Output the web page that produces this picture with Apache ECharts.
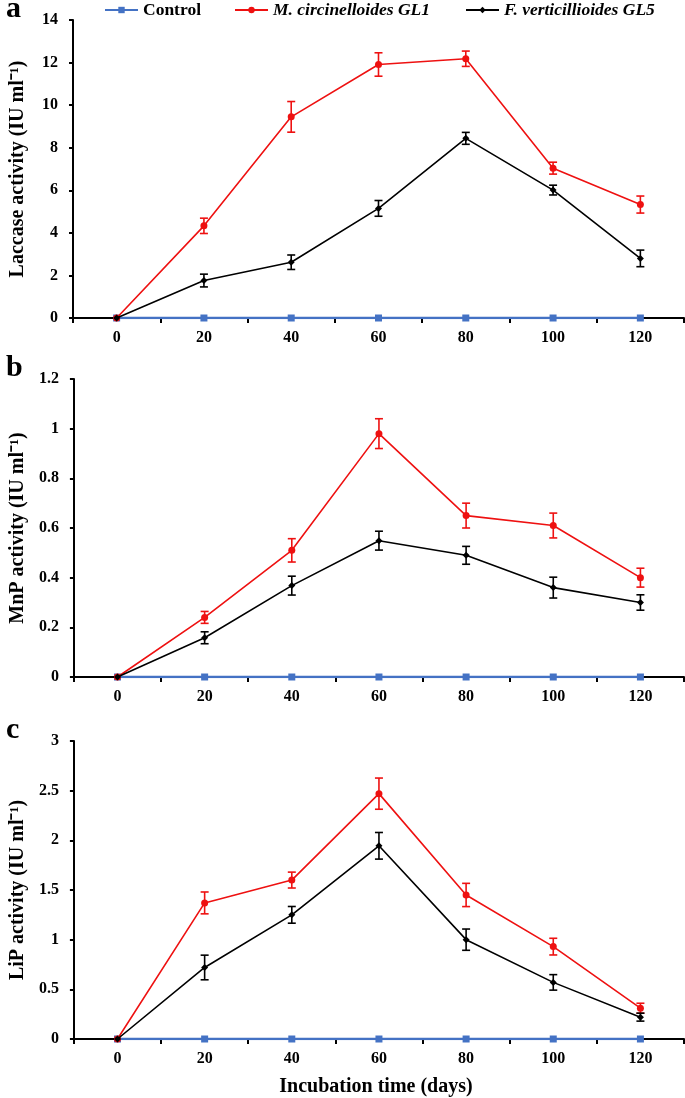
<!DOCTYPE html>
<html>
<head>
<meta charset="utf-8">
<script src="https://cdn.jsdelivr.net/npm/echarts@6/dist/echarts.min.js"></script>
<style>
html,body{margin:0;padding:0;background:#fff;}
#chart{width:685px;height:1098px;}
</style>
</head>
<body>
<div id="chart"></div>
<script>
// ---- data ----
const days = ['0', '20', '40', '60', '80', '100', '120'];
const seriesNames = ['Control', 'M. circinelloides GL1', 'F. verticillioides GL5'];
const panelLetters = ['a', 'b', 'c'];
const yTitles = ['Laccase activity (IU ml\u207B\u00B9)', 'MnP activity (IU ml\u207B\u00B9)', 'LiP activity (IU ml\u207B\u00B9)'];
const xTitle = 'Incubation time (days)';
const yMax = [14, 1.2, 3];
const yInterval = [2, 0.2, 0.5];

const lacControl = [0, 0, 0, 0, 0, 0, 0];
const lacGL1 = [0, 4.33, 9.45, 11.91, 12.18, 7.04, 5.33];
const lacGL1Err = [0, 0.36, 0.72, 0.55, 0.36, 0.28, 0.40];
const lacGL5 = [0, 1.76, 2.62, 5.15, 8.44, 6.01, 2.80];
const lacGL5Err = [0, 0.30, 0.34, 0.37, 0.28, 0.23, 0.39];

const mnpControl = [0, 0, 0, 0, 0, 0, 0];
const mnpGL1 = [0, 0.24, 0.51, 0.98, 0.65, 0.61, 0.40];
const mnpGL1Err = [0, 0.024, 0.047, 0.06, 0.05, 0.05, 0.038];
const mnpGL5 = [0, 0.158, 0.368, 0.549, 0.49, 0.36, 0.30];
const mnpGL5Err = [0, 0.024, 0.038, 0.038, 0.036, 0.042, 0.031];

const lipControl = [0, 0, 0, 0, 0, 0, 0];
const lipGL1 = [0, 1.37, 1.60, 2.47, 1.45, 0.93, 0.31];
const lipGL1Err = [0, 0.11, 0.08, 0.157, 0.117, 0.084, 0.05];
const lipGL5 = [0, 0.72, 1.25, 1.945, 1.0, 0.57, 0.22];
const lipGL5Err = [0, 0.124, 0.084, 0.134, 0.107, 0.078, 0.04];

const panels = [
  {control: lacControl, gl1: lacGL1, gl1Err: lacGL1Err, gl5: lacGL5, gl5Err: lacGL5Err},
  {control: mnpControl, gl1: mnpGL1, gl1Err: mnpGL1Err, gl5: mnpGL5, gl5Err: mnpGL5Err},
  {control: lipControl, gl1: lipGL1, gl1Err: lipGL1Err, gl5: lipGL5, gl5Err: lipGL5Err}
];

// ---- style ----
const FONT = "'Liberation Serif','Times New Roman',serif";
const BLUE = '#4472C4';
const RED = '#EE1111';
const BLACK = '#000000';
const gridTops = [20, 379, 741];
const gridHeight = 298;

const chart = echarts.init(document.getElementById('chart'), null, {renderer: 'canvas'});

function errSeries(vals, errs, color, idx) {
  return {
    type: 'custom',
    xAxisIndex: idx, yAxisIndex: idx,
    z: 2,
    silent: true,
    data: vals.map((v, i) => [i, v - errs[i], v + errs[i], errs[i]]),
    renderItem: function (params, api) {
      if (api.value(3) <= 0) return null;
      const x = api.value(0);
      const lo = api.coord([x, api.value(1)]);
      const hi = api.coord([x, api.value(2)]);
      const w = 4;
      const st = {stroke: color, lineWidth: 1.6};
      return {
        type: 'group',
        children: [
          {type: 'line', shape: {x1: lo[0], y1: lo[1], x2: hi[0], y2: hi[1]}, style: st},
          {type: 'line', shape: {x1: lo[0] - w, y1: lo[1], x2: lo[0] + w, y2: lo[1]}, style: st},
          {type: 'line', shape: {x1: hi[0] - w, y1: hi[1], x2: hi[0] + w, y2: hi[1]}, style: st}
        ]
      };
    }
  };
}

const grids = [], xAxes = [], yAxes = [], series = [], graphics = [];
panels.forEach((p, k) => {
  grids.push({left: 69, right: 1, top: gridTops[k], height: gridHeight, containLabel: false});
  xAxes.push({
    type: 'category', gridIndex: k, data: days, boundaryGap: true,
    axisLine: {lineStyle: {color: '#000', width: 2}},
    axisTick: {show: true, length: 5, lineStyle: {color: '#000', width: 2}},
    axisLabel: {interval: 0, margin: 12, color: '#000', fontFamily: FONT, fontWeight: 'bold', fontSize: 16},
    splitLine: {show: false}
  });
  yAxes.push({
    type: 'value', gridIndex: k, min: 0, max: yMax[k], interval: yInterval[k],
    name: yTitles[k], nameLocation: 'middle', nameGap: 45,
    nameTextStyle: {fontFamily: FONT, fontWeight: 'bold', fontSize: 20, color: '#000'},
    axisLine: {show: true, lineStyle: {color: '#000', width: 2}},
    axisTick: {show: true, length: 4, lineStyle: {color: '#000', width: 2}},
    axisLabel: {margin: 15, color: '#000', fontFamily: FONT, fontWeight: 'bold', fontSize: 16},
    splitLine: {show: false}
  });
  series.push(errSeries(p.gl1, p.gl1Err, RED, k));
  series.push(errSeries(p.gl5, p.gl5Err, BLACK, k));
  series.push({
    name: seriesNames[0], type: 'line', xAxisIndex: k, yAxisIndex: k, data: p.control,
    symbol: 'rect', symbolSize: 7, showAllSymbol: true, z: 3,
    lineStyle: {color: BLUE, width: 2.5}, itemStyle: {color: BLUE}
  });
  series.push({
    name: seriesNames[1], type: 'line', xAxisIndex: k, yAxisIndex: k, data: p.gl1,
    symbol: 'circle', symbolSize: 7, showAllSymbol: true, z: 4,
    lineStyle: {color: RED, width: 1.6}, itemStyle: {color: RED}
  });
  series.push({
    name: seriesNames[2], type: 'line', xAxisIndex: k, yAxisIndex: k, data: p.gl5,
    symbol: 'diamond', symbolSize: 7, showAllSymbol: true, z: 5,
    lineStyle: {color: BLACK, width: 1.6}, itemStyle: {color: BLACK}
  });
  graphics.push({
    type: 'text', x: 6, y: gridTops[k] - 11,
    style: {text: panelLetters[k], fontFamily: FONT, fontWeight: 'bold', fontSize: 30, fill: '#000', verticalAlign: 'middle'}
  });
});

graphics.push({
  type: 'text', x: 376, y: 1087,
  style: {text: xTitle, fontFamily: FONT, fontWeight: 'bold', fontSize: 20, fill: '#000', align: 'center', verticalAlign: 'middle'}
});

const legendLefts = [104, 234, 465];
const legends = seriesNames.map((n, i) => ({
  top: 1, left: legendLefts[i], padding: 0, itemWidth: 33, itemHeight: 8, itemGap: 0,
  textStyle: {fontFamily: FONT, fontWeight: 'bold', fontSize: 17.5, color: '#000', fontStyle: i === 0 ? 'normal' : 'italic'},
  data: [n]
}));

const option = {
  animation: false,
  backgroundColor: '#fff',
  legend: legends,
  grid: grids, xAxis: xAxes, yAxis: yAxes, series: series, graphic: graphics
};
chart.setOption(option);
</script>
</body>
</html>
